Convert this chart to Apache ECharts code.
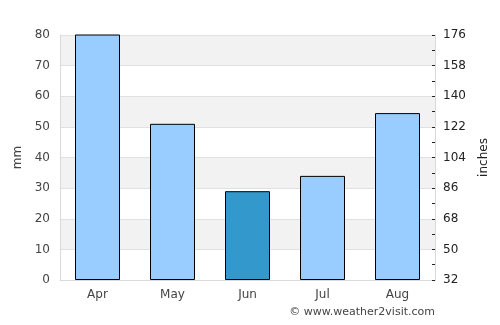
<!DOCTYPE html>
<html style="height: 100%">
<head>
<meta charset="utf-8">
<title>Rainfall</title>
</head>
<body style="height: 100%; margin: 0">
<div id="container" style="width: 500px; height: 325px"></div>
<script src="https://cdn.jsdelivr.net/npm/echarts@6/dist/echarts.min.js"></script>
<script>
var months = ['Apr', 'May', 'Jun', 'Jul', 'Aug'];
var rainfall = [83, 51, 29, 34, 54.5];
var highlightMonth = 'Jun';
var rightLabels = [32, 50, 68, 86, 104, 122, 140, 158, 176];

var chart = echarts.init(document.getElementById('container'));
var textColor = '#444';
var font = 'DejaVu Sans';

var option = {
    animation: false,
    grid: { left: 60, right: 65, top: 35, bottom: 45 },
    xAxis: {
        type: 'category',
        data: months,
        axisLine: { lineStyle: { color: '#d9d9d9' } },
        axisTick: { show: false },
        axisLabel: { color: textColor, fontFamily: font, fontSize: 12, margin: 9 }
    },
    yAxis: [
        {
            type: 'value',
            min: 0, max: 80, interval: 10,
            name: 'mm',
            nameLocation: 'middle',
            nameGap: 36,
            nameTextStyle: { color: textColor, fontFamily: font, fontSize: 12 },
            axisLine: { show: true, lineStyle: { color: '#d9d9d9' } },
            axisTick: { show: false },
            axisLabel: { color: textColor, fontFamily: font, fontSize: 12, margin: 10 },
            splitLine: { lineStyle: { color: '#e0e0e0' } },
            splitArea: { show: true, areaStyle: { color: ['#ffffff', '#f2f2f2'] } }
        },
        {
            type: 'value',
            position: 'right',
            min: 0, max: 80, interval: 10,
            name: 'inches',
            nameLocation: 'middle',
            nameGap: 43,
            nameTextStyle: { color: '#222', fontFamily: font, fontSize: 12 },
            axisLine: { show: true, lineStyle: { color: '#d9d9d9' } },
            axisTick: { show: true, inside: true, length: 3, lineStyle: { color: '#222' } },
            minorTick: { show: true, splitNumber: 2, length: 3, lineStyle: { color: '#222' } },
            axisLabel: {
                color: '#222', fontFamily: font, fontSize: 12, margin: 8,
                formatter: function (v) { return rightLabels[Math.round(v / 10)]; }
            },
            splitLine: { show: false }
        }
    ],
    series: [{
        type: 'bar',
        barWidth: '60%',
        clip: true,
        data: rainfall.map(function (v, i) {
            return {
                value: v,
                itemStyle: { color: months[i] === highlightMonth ? '#3399cc' : '#99ccff' }
            };
        }),
        itemStyle: { borderColor: '#000', borderWidth: 1 }
    }],
    graphic: [{
        type: 'text',
        right: 65,
        top: 307,
        style: { text: '© www.weather2visit.com', fill: textColor, font: '11px DejaVu Sans' }
    }]
};
chart.setOption(option);
</script>
</body>
</html>
